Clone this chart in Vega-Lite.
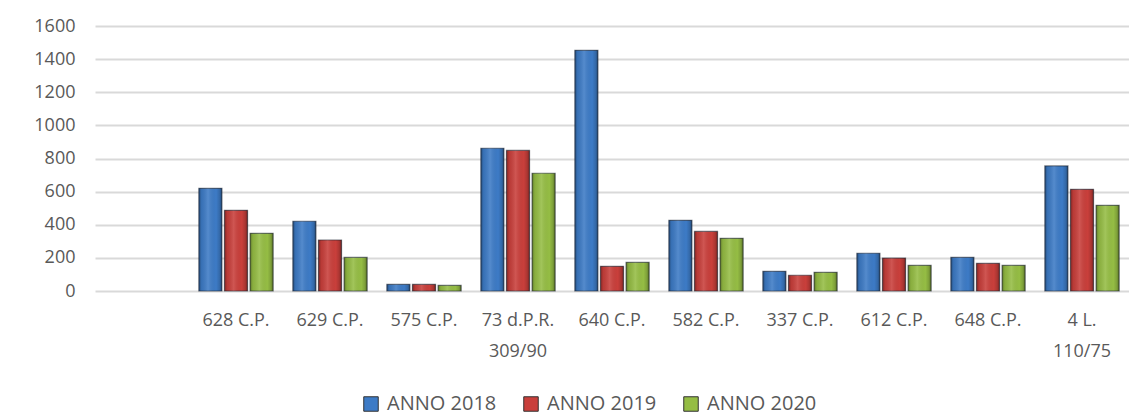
{
  "$schema": "https://vega.github.io/schema/vega-lite/v6.json",
  "width": 1034,
  "height": 265,
  "autosize": {"type": "none"},
  "padding": {"left": 95, "top": 26, "right": 0, "bottom": 125},
  "background": "white",
  "config": {
    "view": {"stroke": null},
    "font": "Open Sans",
    "axis": {"labelFont": "Open Sans", "labelColor": "#595959", "labelFontSize": 18}
  },
  "data": {
    "values": [
      {"norma": "628 C.P.", "anno": "ANNO 2018", "valore": 620},
      {"norma": "628 C.P.", "anno": "ANNO 2019", "valore": 487},
      {"norma": "628 C.P.", "anno": "ANNO 2020", "valore": 348},
      {"norma": "629 C.P.", "anno": "ANNO 2018", "valore": 421},
      {"norma": "629 C.P.", "anno": "ANNO 2019", "valore": 308},
      {"norma": "629 C.P.", "anno": "ANNO 2020", "valore": 203},
      {"norma": "575 C.P.", "anno": "ANNO 2018", "valore": 40},
      {"norma": "575 C.P.", "anno": "ANNO 2019", "valore": 40},
      {"norma": "575 C.P.", "anno": "ANNO 2020", "valore": 34},
      {"norma": "73 d.P.R.|309/90", "anno": "ANNO 2018", "valore": 862},
      {"norma": "73 d.P.R.|309/90", "anno": "ANNO 2019", "valore": 849},
      {"norma": "73 d.P.R.|309/90", "anno": "ANNO 2020", "valore": 711},
      {"norma": "640 C.P.", "anno": "ANNO 2018", "valore": 1453},
      {"norma": "640 C.P.", "anno": "ANNO 2019", "valore": 149},
      {"norma": "640 C.P.", "anno": "ANNO 2020", "valore": 173},
      {"norma": "582 C.P.", "anno": "ANNO 2018", "valore": 427},
      {"norma": "582 C.P.", "anno": "ANNO 2019", "valore": 360},
      {"norma": "582 C.P.", "anno": "ANNO 2020", "valore": 318},
      {"norma": "337 C.P.", "anno": "ANNO 2018", "valore": 119},
      {"norma": "337 C.P.", "anno": "ANNO 2019", "valore": 95},
      {"norma": "337 C.P.", "anno": "ANNO 2020", "valore": 113},
      {"norma": "612 C.P.", "anno": "ANNO 2018", "valore": 228},
      {"norma": "612 C.P.", "anno": "ANNO 2019", "valore": 199},
      {"norma": "612 C.P.", "anno": "ANNO 2020", "valore": 155},
      {"norma": "648 C.P.", "anno": "ANNO 2018", "valore": 203},
      {"norma": "648 C.P.", "anno": "ANNO 2019", "valore": 167},
      {"norma": "648 C.P.", "anno": "ANNO 2020", "valore": 155},
      {"norma": "4 L.|110/75", "anno": "ANNO 2018", "valore": 755},
      {"norma": "4 L.|110/75", "anno": "ANNO 2019", "valore": 614},
      {"norma": "4 L.|110/75", "anno": "ANNO 2020", "valore": 517}
    ]
  },
  "encoding": {
    "x": {
      "field": "norma",
      "type": "nominal",
      "sort": null,
      "scale": {
        "domain": [" ", "628 C.P.", "629 C.P.", "575 C.P.", "73 d.P.R.|309/90", "640 C.P.", "582 C.P.", "337 C.P.", "612 C.P.", "648 C.P.", "4 L.|110/75"],
        "paddingInner": 0.21,
        "paddingOuter": 0.105
      },
      "axis": {
        "title": null,
        "labelAngle": 0,
        "ticks": false,
        "domain": false,
        "labelPadding": 20,
        "labelLineHeight": 31,
        "labelExpr": "split(datum.label, '|')"
      }
    },
    "xOffset": {
      "field": "anno",
      "type": "nominal",
      "scale": {"paddingInner": 0.1, "paddingOuter": 0}
    },
    "y": {
      "field": "valore",
      "type": "quantitative",
      "scale": {"domain": [0, 1600], "nice": false},
      "axis": {
        "title": null,
        "values": [0, 200, 400, 600, 800, 1000, 1200, 1400, 1600],
        "format": "d",
        "ticks": false,
        "domain": false,
        "labelPadding": 20,
        "gridColor": "#D9D9D9",
        "gridWidth": 2
      }
    }
  },
  "layer": [
    {
      "mark": {"type": "bar", "strokeWidth": 1.2, "stroke": "#1e2733", "strokeOpacity": 0.6},
      "encoding": {
        "color": {
          "field": "anno",
          "type": "nominal",
          "scale": {"domain": ["ANNO 2018", "ANNO 2019", "ANNO 2020"], "range": ["#3D7BC6", "#C93F3B", "#95BD44"]},
          "legend": {
            "title": null,
            "orient": "none",
            "legendX": 266,
            "legendY": 368,
            "direction": "horizontal",
            "symbolType": "square",
            "symbolSize": 210,
            "symbolStrokeWidth": 1,
            "symbolStrokeColor": "#333333",
            "labelFont": "Open Sans",
            "labelFontSize": 20,
            "labelColor": "#595959",
            "labelOffset": 6,
            "columnPadding": 24,
            "labelLimit": 300
          }
        }
      }
    },
    {
      "mark": {
        "type": "bar",
        "fill": {
          "gradient": "linear",
          "x1": 0, "x2": 1, "y1": 0, "y2": 0,
          "stops": [
            {"offset": 0, "color": "rgba(0,0,0,0.35)"},
            {"offset": 0.12, "color": "rgba(0,0,0,0.08)"},
            {"offset": 0.4, "color": "rgba(255,255,255,0.12)"},
            {"offset": 0.75, "color": "rgba(0,0,0,0)"},
            {"offset": 0.9, "color": "rgba(0,0,0,0.15)"},
            {"offset": 1, "color": "rgba(0,0,0,0.4)"}
          ]
        }
      }
    }
  ]
}
